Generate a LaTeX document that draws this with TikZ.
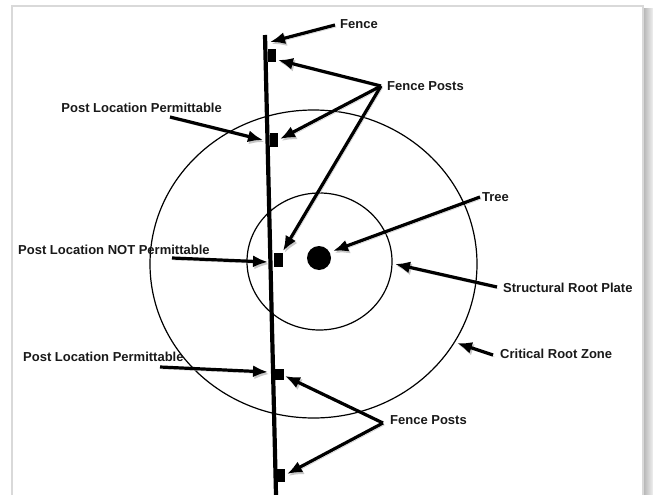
\documentclass[tikz,border=0pt]{standalone}
\usepackage{fontspec}
\setmainfont{Liberation Sans}
\usetikzlibrary{arrows.meta}
\begin{document}
\begin{tikzpicture}[x=1pt,y=-1pt,
  lbl/.style={font=\bfseries\fontsize{13}{15}\selectfont, inner sep=0pt, text=black!90},
  arr/.style={line width=3.2pt,-{Latex[length=15pt,width=12pt]},
    preaction={draw=black!22, transform canvas={shift={(1.5pt,-2pt)}}}},
  post/.style={fill=black, draw=none, minimum width=8pt, minimum height=13pt, inner sep=0pt},
  ring/.style={draw=black, line width=1.2pt}]
\useasboundingbox (0,0) rectangle (653,495);
\fill[white] (0,0) rectangle (653,495);
% frame
\shade[left color=gray!60,right color=gray!12] (643,9) rectangle (653,495);
\draw[gray!30,line width=2pt] (12,495) -- (12,6.5) -- (643,6.5) -- (643,495);
% root zones
\draw[ring] (313.5,264) ellipse [x radius=163.5pt, y radius=154pt];
\draw[ring] (319.5,261.5) ellipse [x radius=72.5pt, y radius=68.5pt];
% fence
\coordinate (ftop) at (265,35);
\coordinate (fbot) at (276,495);
\draw[line width=4.2pt] (ftop) -- (fbot);
% posts
\node[post] (p1) at (272,56) {};
\node[post, minimum height=14pt] (p2) at (274,140) {};
\node[post, minimum width=9pt, minimum height=14pt] (p3) at (278,260) {};
\node[post, minimum width=10pt, minimum height=11pt] (p4) at (279,374) {};
\node[post] (p5) at (281,475) {};
% tree
\node[circle, fill=black, minimum size=24pt, inner sep=0pt] (tree) at (319,258) {};
% labels
\node[lbl, anchor=west] (lfence) at (340,24) {Fence};
\node[lbl, anchor=west] (lfpt) at (387,86) {Fence Posts};
\node[lbl, anchor=east] (lplp1) at (222,108) {Post Location Permittable};
\node[lbl, anchor=west] (ltree) at (482,197) {Tree};
\node[lbl, anchor=west] (lplnp) at (18,250) {Post Location NOT Permittable};
\node[lbl, anchor=west] (lsrp) at (503,288) {Structural Root Plate};
\node[lbl, anchor=west] (lcrz) at (500,354) {Critical Root Zone};
\node[lbl, anchor=west] (lplp2) at (23,357) {Post Location Permittable};
\node[lbl, anchor=west] (lfpb) at (390,420) {Fence Posts};
% arrow anchors
\coordinate (afence) at (335,25);
\coordinate (tfence) at (270,42);
\coordinate (afpt) at (381,86);
\coordinate (t1) at (278,60);
\coordinate (t2) at (280,139);
\coordinate (t3) at (283,251);
\coordinate (aplp1) at (170,117);
\coordinate (tplp1) at (263,140);
\coordinate (atree) at (480,197);
\coordinate (ttree) at (333,251);
\coordinate (aplnp) at (172,258);
\coordinate (tplnp) at (268,262);
\coordinate (asrp) at (497,287);
\coordinate (tsrp) at (395,264);
\coordinate (acrz) at (493,355);
\coordinate (tcrz) at (457,343);
\coordinate (aplp2) at (160,367);
\coordinate (tplp2) at (268,372);
\coordinate (afpb) at (383,423);
\coordinate (t4) at (285,376);
\coordinate (t5) at (287,474);
% arrows
\draw[arr] (afence) -- (tfence);
\draw[arr] (afpt) -- (t1);
\draw[arr] (afpt) -- (t2);
\draw[arr] (afpt) -- (t3);
\draw[arr] (aplp1) -- (tplp1);
\draw[arr] (atree) -- (ttree);
\draw[arr] (aplnp) -- (tplnp);
\draw[arr] (asrp) -- (tsrp);
\draw[arr] (acrz) -- (tcrz);
\draw[arr] (aplp2) -- (tplp2);
\draw[arr] (afpb) -- (t4);
\draw[arr] (afpb) -- (t5);
\end{tikzpicture}
\end{document}
